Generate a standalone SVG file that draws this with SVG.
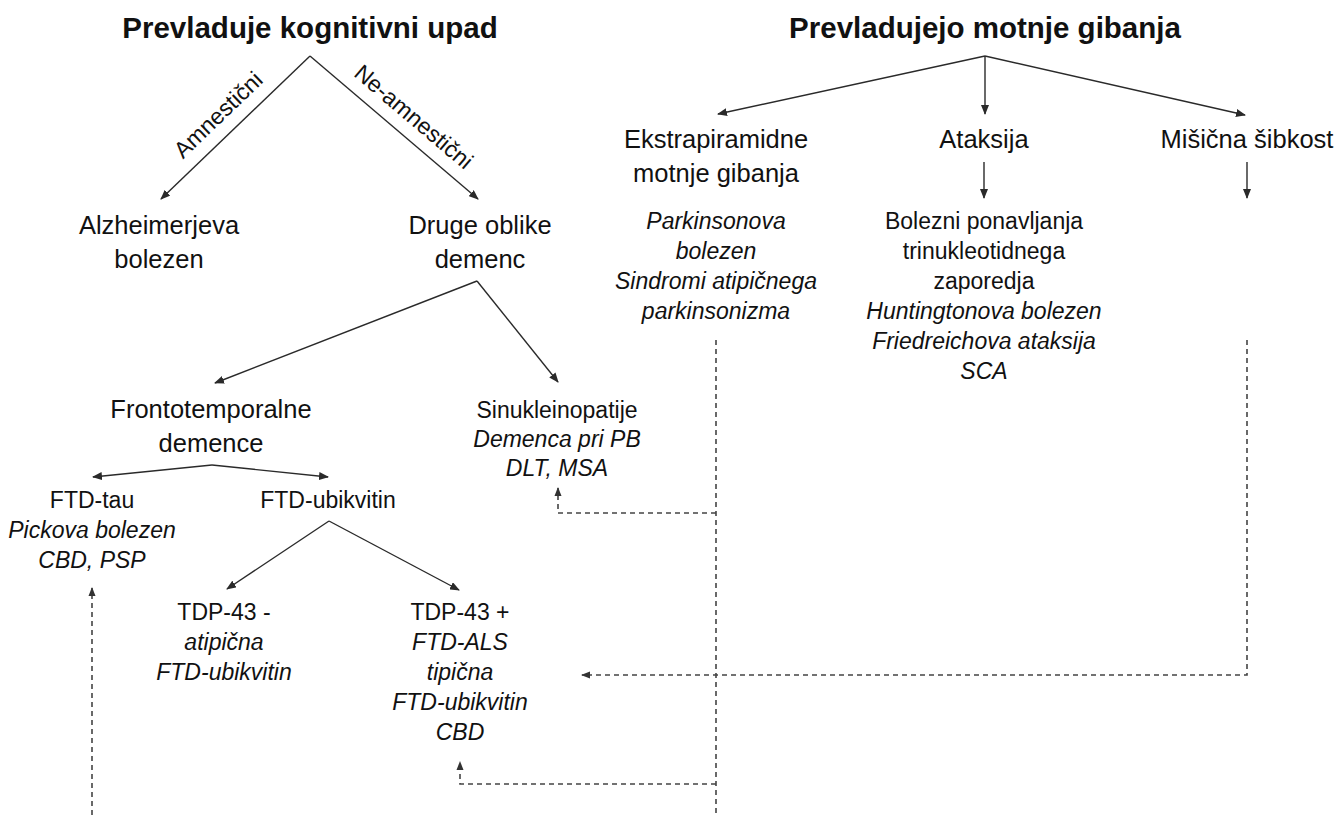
<svg xmlns="http://www.w3.org/2000/svg" width="1339" height="815" viewBox="0 0 1339 815">
<defs>
<style>
text{font-family:"Liberation Sans",Arial,sans-serif;fill:#111;text-anchor:middle}
.t{font-size:29.5px;font-weight:bold}
.a{font-size:25.5px}
.b{font-size:23px}
.i{font-style:italic}
.ln{fill:none;stroke:#2a2a2a;stroke-width:1.4}
.ds{fill:none;stroke:#444;stroke-width:1.6;stroke-dasharray:5 4}
</style>
<marker id="ah" markerWidth="10" markerHeight="8" refX="9" refY="4" orient="auto" markerUnits="userSpaceOnUse">
<path d="M0,0 L10,4 L0,8 z" fill="#2a2a2a"/>
</marker>
<marker id="ad" markerWidth="9" markerHeight="8" refX="8" refY="4" orient="auto" markerUnits="userSpaceOnUse">
<path d="M0,0.5 L9,4 L0,7.5 z" fill="#333"/>
</marker>
</defs>
<rect width="1339" height="815" fill="#fff"/>

<g id="connectors">
<path class="ln" d="M310,56 L161,199" marker-end="url(#ah)"/>
<path class="ln" d="M310,56 L478,199" marker-end="url(#ah)"/>
<path class="ln" d="M477,281 L215,383" marker-end="url(#ah)"/>
<path class="ln" d="M477,281 L558,382" marker-end="url(#ah)"/>
<path class="ln" d="M212,465 L93,477" marker-end="url(#ah)"/>
<path class="ln" d="M212,465 L328,477" marker-end="url(#ah)"/>
<path class="ln" d="M329,521 L227,589" marker-end="url(#ah)"/>
<path class="ln" d="M329,521 L459,590" marker-end="url(#ah)"/>
<path class="ln" d="M985,56 L718,114" marker-end="url(#ah)"/>
<path class="ln" d="M985,56 L985,114" marker-end="url(#ah)"/>
<path class="ln" d="M985,56 L1245,115" marker-end="url(#ah)"/>
<path class="ln" d="M984,162 L984,198" marker-end="url(#ah)"/>
<path class="ln" d="M1247,162 L1247,198" marker-end="url(#ah)"/>
<path class="ds" d="M716,340 L716,815"/>
<path class="ds" d="M716,513 L558,513 L558,488" marker-end="url(#ad)"/>
<path class="ds" d="M716,784 L460,784 L460,762" marker-end="url(#ad)"/>
<path class="ds" d="M1247,340 L1247,675 L582,675" marker-end="url(#ad)"/>
<path class="ds" d="M92,815 L92,588" marker-end="url(#ad)"/>
<text class="b" transform="translate(223.5,120.5) rotate(-43.8)">Amnestični</text>
<text class="b" transform="translate(408.6,122.8) rotate(40.4)">Ne-amnestični</text>
</g>

<g id="title-left"><text class="t" x="310" y="38">Prevladuje kognitivni upad</text></g>
<g id="title-right"><text class="t" x="985" y="38">Prevladujejo motnje gibanja</text></g>

<g id="alzheimer"><text class="a" x="159" y="234">Alzheimerjeva</text><text class="a" x="159" y="268">bolezen</text></g>
<g id="druge"><text class="a" x="480" y="234">Druge oblike</text><text class="a" x="480" y="268">demenc</text></g>
<g id="ftd"><text class="a" x="211" y="418">Frontotemporalne</text><text class="a" x="211" y="452">demence</text></g>
<g id="sinuklein"><text class="b" x="557" y="418">Sinukleinopatije</text><text class="b i" x="557" y="447">Demenca pri PB</text><text class="b i" x="557" y="476">DLT, MSA</text></g>
<g id="ftd-tau"><text class="b" x="92" y="508">FTD-tau</text><text class="b i" x="92" y="538">Pickova bolezen</text><text class="b i" x="92" y="568">CBD, PSP</text></g>
<g id="ftd-ubikvitin"><text class="b" x="328" y="508">FTD-ubikvitin</text></g>
<g id="tdp-minus"><text class="b" x="224" y="620">TDP-43 -</text><text class="b i" x="224" y="650">atipična</text><text class="b i" x="224" y="680">FTD-ubikvitin</text></g>
<g id="tdp-plus"><text class="b" x="460" y="620">TDP-43 +</text><text class="b i" x="460" y="650">FTD-ALS</text><text class="b i" x="460" y="680">tipična</text><text class="b i" x="460" y="710">FTD-ubikvitin</text><text class="b i" x="460" y="740">CBD</text></g>

<g id="ekstrapiramidne"><text class="a" x="716" y="148">Ekstrapiramidne</text><text class="a" x="716" y="182">motnje gibanja</text></g>
<g id="ekstra-list"><text class="b i" x="716" y="229">Parkinsonova</text><text class="b i" x="716" y="259">bolezen</text><text class="b i" x="716" y="289">Sindromi atipičnega</text><text class="b i" x="716" y="319">parkinsonizma</text></g>
<g id="ataksija"><text class="a" x="984" y="148">Ataksija</text></g>
<g id="ataksija-list"><text class="b" x="984" y="229">Bolezni ponavljanja</text><text class="b" x="984" y="259">trinukleotidnega</text><text class="b" x="984" y="289">zaporedja</text><text class="b i" x="984" y="319">Huntingtonova bolezen</text><text class="b i" x="984" y="349">Friedreichova ataksija</text><text class="b i" x="984" y="379">SCA</text></g>
<g id="misicna"><text class="a" x="1247" y="148">Mišična šibkost</text></g>
</svg>
